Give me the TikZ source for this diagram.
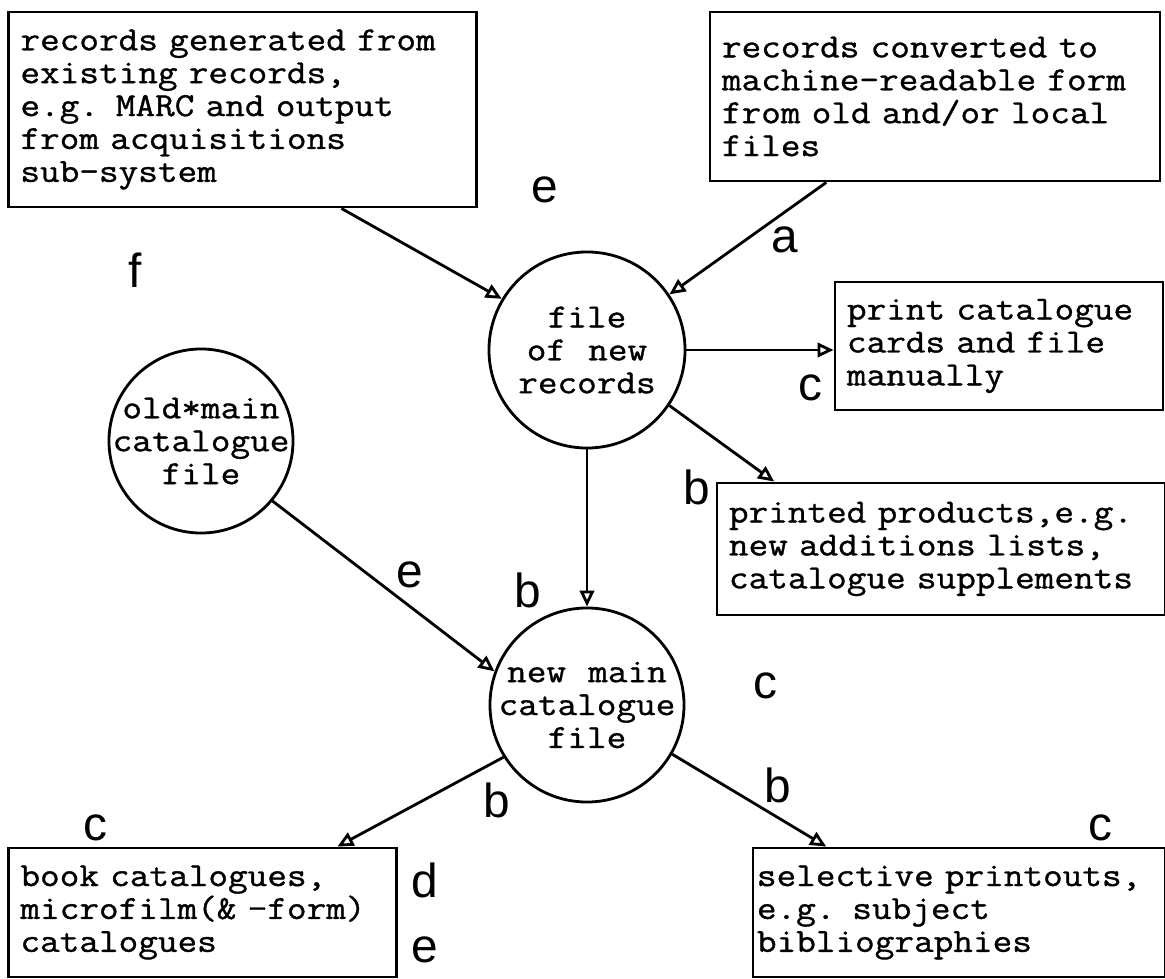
\documentclass[tikz,border=0pt]{standalone}
\usepackage{fontspec}
\usepackage{tikz}
\usetikzlibrary{positioning, arrows.meta, calc}
\newfontfamily\lblfont{Liberation Sans}
\newfontfamily\typefont[FakeStretch=1.13, WordSpace=1.13, FakeBold=1]{Latin Modern Mono}

\begin{document}
\begin{tikzpicture}[x=0.025cm, y=-0.025cm, line width=2pt,
    txt/.style={font=\typefont\fontsize{24}{23.4}\selectfont},
    box/.style={draw, txt, align=left, inner xsep=0.3cm, inner ysep=0pt},
    file/.style={draw, circle, inner sep=0pt},
    lbl/.style={font=\lblfont\fontsize{34}{34}\selectfont, inner sep=0pt},
    flow/.style={-{Triangle[open, length=0.4cm, width=0.36cm]}}]
    \useasboundingbox (0,0) rectangle (1165,979);

    % sources
    \node[box, text width=11.1cm, minimum height=4.875cm] (gen) at (242.5,109.5) {records generated from\\existing records,\\e.g. MARC and output\\from acquisitions\\sub-system};
    \node[box, text width=10.65cm, minimum height=4.225cm] (conv) at (935,96.5) {records converted to\\machine-readable form\\from old and/or local\\files};

    % files
    \node[file, minimum size=4.9cm] (newrec) at (587,350) {};
    \node[txt, align=center] (newrectxt) at (newrec) {file\\of new\\records};
    \node[file, minimum size=4.6cm] (oldcat) at (201,441) {};
    \node[txt, align=center] (oldcattxt) at (oldcat) {old*main\\catalogue\\file};
    \node[file, minimum size=4.85cm] (newcat) at (587,705) {};
    \node[txt, align=center] (newcattxt) at (newcat) {new main\\catalogue\\file};

    % outputs
    \node[box, text width=7.6cm, minimum height=3.2cm] (cards) at (999,346) {print catalogue\\cards and file\\manually};
    \node[box, text width=10.6cm, minimum height=3.3cm] (prod) at (941,549) {printed products,e.g.\\new additions lists,\\catalogue supplements};
    \node[box, text width=9.1cm, minimum height=3.225cm] (book) at (202.5,912.5) {book catalogues,\\microfilm(\& -form)\\catalogues};
    \node[box, inner xsep=0.1cm, text width=10.1cm, minimum height=3.225cm] (sel) at (959,912.5) {selective printouts,\\e.g. subject\\bibliographies};

    \draw[flow] ($(gen.south west)!0.71!(gen.south east)$) -- (newrec.149);
    \draw[flow] ($(conv.south west)!0.26!(conv.south east)$) -- (newrec.34);
    \draw[flow] (newrec.east) -- (newrec.east -| cards.west);
    \draw[flow] (newrec.-34) -- ($(prod.north west)!0.13!(prod.north east)$);
    \draw[flow] (newrec.south) -- (newcat.north);
    \draw[flow] (oldcat.-40) -- (newcat.160);
    \draw[flow] (newcat.212) -- ($(book.north west)!0.845!(book.north east)$);
    \draw[flow] (newcat.-30) -- ($(sel.north west)!0.18!(sel.north east)$);

    % letters
    \node[lbl] (lblE1) at (545,190) {e};
    \node[lbl] (lblF) at (135,270) {f};
    \node[lbl] (lblA) at (785,240) {a};
    \node[lbl] (lblC1) at (810,388) {c};
    \node[lbl] (lblB1) at (697,487) {b};
    \node[lbl] (lblE2) at (410,575) {e};
    \node[lbl] (lblB2) at (528,590) {b};
    \node[lbl] (lblC2) at (765,686) {c};
    \node[lbl] (lblB3) at (497,800) {b};
    \node[lbl] (lblB4) at (778,785) {b};
    \node[lbl] (lblC3) at (95,828) {c};
    \node[lbl] (lblC4) at (1100,828) {c};
    \node[lbl] (lblD) at (425,880) {d};
    \node[lbl] (lblE3) at (425,950) {e};
\end{tikzpicture}
\end{document}
